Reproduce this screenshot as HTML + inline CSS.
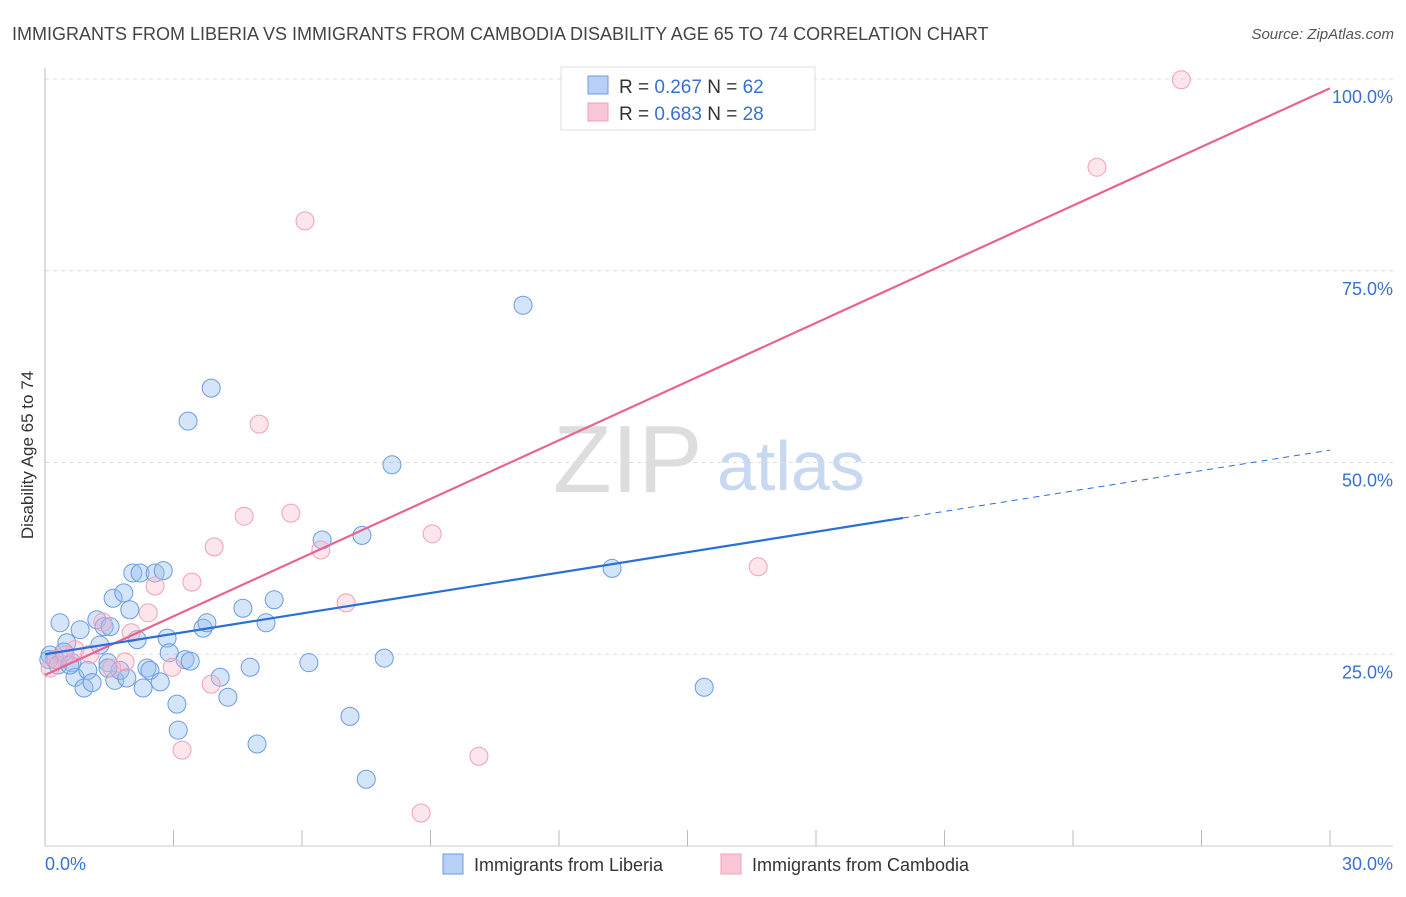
<!DOCTYPE html>
<html><head><meta charset="utf-8"><style>
body{margin:0;background:#fff;font-family:"Liberation Sans",sans-serif;}
svg text{font-family:"Liberation Sans",sans-serif;}
</style></head><body>
<svg id="chart" width="1406" height="892" xmlns="http://www.w3.org/2000/svg">
<text x="12" y="40" font-size="18" fill="#444">IMMIGRANTS FROM LIBERIA VS IMMIGRANTS FROM CAMBODIA DISABILITY AGE 65 TO 74 CORRELATION CHART</text>
<text x="1394" y="39" font-size="15" fill="#555" font-style="italic" text-anchor="end">Source: ZipAtlas.com</text>
<g>
<text x="553" y="492" font-size="96" font-family="Liberation Serif" fill="#ddd">ZIP</text>
<text x="717" y="490" font-size="70" fill="#c8d8f0">atlas</text>
</g>
<g id="grid"></g>
<g id="axes"></g>
<g id="marks"></g>
<text transform="translate(33,455) rotate(-90)" font-size="17" fill="#333" text-anchor="middle">Disability Age 65 to 74</text>
<g>
<rect x="561" y="67" width="254" height="63" fill="#fff" stroke="#ddd"/>
<rect x="588" y="76" width="20" height="18" fill="#b8d0f5" stroke="#6a9be0"/>
<rect x="588" y="103" width="20" height="18" fill="#f9c6d6" stroke="#f0a0b8"/>
<text x="619" y="93" font-size="19" fill="#333">R = <tspan fill="#3a70d0">0.267</tspan>   N = <tspan fill="#3a70d0">62</tspan></text>
<text x="619" y="120" font-size="19" fill="#333">R = <tspan fill="#3a70d0">0.683</tspan>   N = <tspan fill="#3a70d0">28</tspan></text>
</g>
<g>
<rect x="443" y="854" width="20" height="20" fill="#b8d0f5" stroke="#6a9be0"/>
<text x="474" y="871" font-size="18" fill="#333">Immigrants from Liberia</text>
<rect x="721" y="854" width="20" height="20" fill="#f9c6d6" stroke="#f0a0b8"/>
<text x="752" y="871" font-size="18" fill="#333">Immigrants from Cambodia</text>
</g>
</svg>
<script>
const yTicks=[25,50,75,100];
const xTickLabels=["0.0%","30.0%"];
const blueX=[0.12,0.23,0.35,0.51,0.63,0.70,0.82,0.91,1.00,1.10,1.21,1.28,1.38,1.47,1.52,1.63,1.59,1.75,1.84,1.91,1.98,2.05,2.15,2.22,2.29,2.38,2.45,2.57,2.69,2.76,2.85,2.90,3.08,3.11,3.27,3.39,3.34,3.69,3.78,3.88,4.09,4.27,4.62,4.79,4.95,5.16,5.35,6.16,6.47,7.12,7.40,7.50,7.92,8.10,11.16,13.24,15.39,0.09,0.30,0.44,0.58,1.47];
const blueY=[24.9,24.3,29.1,26.5,23.9,22.0,28.2,20.6,22.9,21.3,29.5,26.2,28.6,23.9,28.6,21.6,32.3,22.9,33.0,21.9,30.8,35.6,26.9,35.6,20.6,23.2,22.9,35.6,21.4,35.9,27.1,25.2,18.5,15.1,24.3,24.1,55.4,28.4,29.1,59.7,22.0,19.4,31.0,23.3,13.3,29.1,32.1,23.9,39.9,16.9,40.5,8.7,24.5,49.7,70.5,36.2,20.7,24.3,23.6,25.3,23.6,23.2];
const pinkX=[26.53,24.56,6.07,5.00,5.74,4.65,3.95,9.04,6.44,3.43,2.57,7.03,2.41,2.01,1.87,16.65,2.97,3.88,3.20,10.13,8.78,0.12,0.26,0.70,1.05,1.35,1.56,0.47];
const pinkY=[99.9,88.5,81.5,55.0,43.4,43.0,39.0,40.7,38.6,34.4,33.9,31.7,30.4,27.8,24.0,36.4,23.3,21.1,12.5,11.7,4.3,23.2,24.3,25.6,25.0,29.2,23.2,24.9];
const blueTrend=[25.0,0.887]; // intercept, slope
const pinkTrend=[22.3,2.55];
const blueSolidEnd=20.03;

const NS="http://www.w3.org/2000/svg";
const X0=45,X1=1330,Y0=846,Y100=79;
const sx=v=>X0+(X1-X0)*v/30;
const sy=v=>Y0-(Y0-Y100)*v/100;
function mk(tag,attrs,parent){const e=document.createElementNS(NS,tag);for(const k in attrs)e.setAttribute(k,attrs[k]);document.getElementById(parent).appendChild(e);return e;}

yTicks.forEach(t=>{
  const l=mk('line',{x1:X0,x2:1393,y1:sy(t),y2:sy(t),stroke:'#ddd','stroke-dasharray':'4,4'},'grid');
  
  
  const tx=mk('text',{x:1393,y:sy(t)+24,'font-size':18,fill:'#3a70d0','text-anchor':'end'},'grid');
  tx.textContent=t.toFixed(1)+'%';
  
  
});
let a=mk('line',{x1:X0,x2:X0,y1:68,y2:Y0,stroke:'#bbb'},'axes');


a=mk('line',{x1:X0,x2:1393,y1:Y0,y2:Y0,stroke:'#ccc'},'axes');


for(let i=0;i<=10;i++){
  const t=mk('line',{x1:sx(i*3),x2:sx(i*3),y1:830,y2:Y0,stroke:'#bbb'},'axes');
  
  
}
let xl=mk('text',{x:45,y:870,'font-size':18,fill:'#3a70d0'},'axes');xl.textContent=xTickLabels[0];


xl=mk('text',{x:1393,y:870,'font-size':18,fill:'#3a70d0','text-anchor':'end'},'axes');xl.textContent=xTickLabels[1];



blueX.forEach((x,i)=>{
  const c=mk('circle',{cx:sx(x),cy:sy(blueY[i]),r:9,fill:'rgba(150,190,240,0.4)',stroke:'#6a9be0','stroke-width':1},'marks');
  
  
});
pinkX.forEach((x,i)=>{
  const c=mk('circle',{cx:sx(x),cy:sy(pinkY[i]),r:9,fill:'rgba(248,180,200,0.35)',stroke:'#f0a0b8','stroke-width':1},'marks');
  
  
});
let l=mk('line',{x1:sx(0),y1:sy(pinkTrend[0]),x2:sx(30),y2:sy(pinkTrend[0]+pinkTrend[1]*30),stroke:'#e8648f','stroke-width':2.2},'marks');


l=mk('line',{x1:sx(0),y1:sy(blueTrend[0]),x2:sx(blueSolidEnd),y2:sy(blueTrend[0]+blueTrend[1]*blueSolidEnd),stroke:'#2a6fd6','stroke-width':2.2},'marks');


l=mk('line',{x1:sx(blueSolidEnd),y1:sy(blueTrend[0]+blueTrend[1]*blueSolidEnd),x2:sx(30),y2:sy(blueTrend[0]+blueTrend[1]*30),stroke:'#2a6fd6','stroke-width':1,'stroke-dasharray':'6,5'},'marks');


</script>
</body></html>
